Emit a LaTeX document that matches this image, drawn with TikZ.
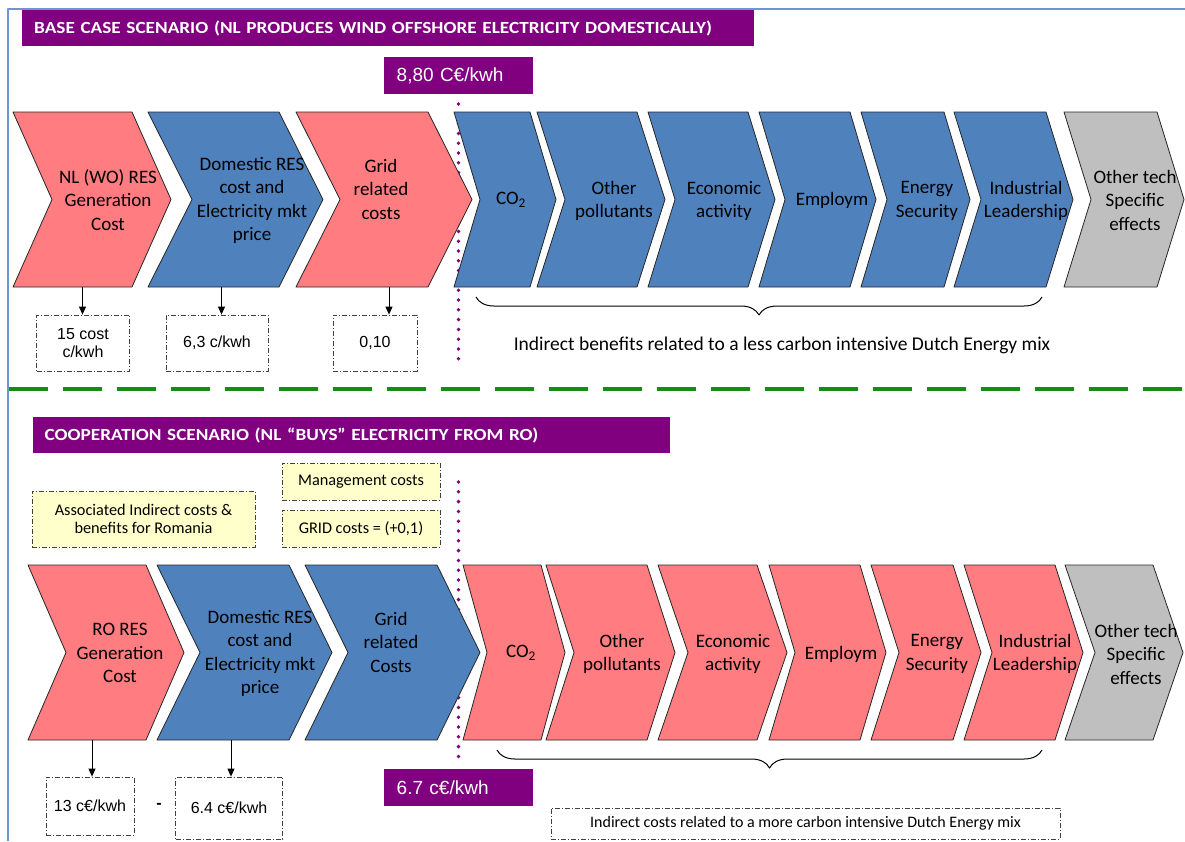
\documentclass[tikz,border=0pt]{standalone}
\usepackage{fontspec}
\setmainfont{Carlito}
\newfontfamily\arialfont{Liberation Sans}
\newfontfamily\hdrfont[FakeStretch=1.13]{Carlito}
\usetikzlibrary{arrows.meta,decorations.pathreplacing}

\definecolor{cpink}{RGB}{255,124,128}
\definecolor{cblue}{RGB}{79,129,189}
\definecolor{cgray}{RGB}{191,191,191}
\definecolor{cplum}{RGB}{128,0,128}
\definecolor{cframe}{RGB}{108,150,205}
\definecolor{cgreen}{RGB}{24,138,24}
\definecolor{cyellow}{RGB}{255,255,204}

\begin{document}
\begin{tikzpicture}[x=1pt, y=-1pt, line join=round, >={Triangle[length=8pt,width=7pt]},
  chev/.style={draw=black!85, line width=0.8pt},
  chevtxt/.style={align=center, inner sep=0pt, font=\fontsize{19}{23.5}\selectfont},
  hdr/.style={fill=cplum, text=white, inner xsep=12pt, inner ysep=0pt, minimum height=36pt,
    align=left, font=\hdrfont\bfseries\fontsize{17}{20}\selectfont},
  price/.style={fill=cplum, text=white, inner xsep=12.5pt, inner ysep=0pt, minimum height=37pt,
    text width=124pt, align=left, font=\arialfont\fontsize{19}{22}\selectfont},
  dashdot/.style={draw=black!75, line width=0.8pt, dash pattern=on 5pt off 2pt on 1pt off 2pt},
  vbox/.style={dashdot, align=center, inner sep=0pt, font=\arialfont\fontsize{16}{18.3}\selectfont},
  ybox/.style={dashdot, fill=cyellow, align=center, inner sep=0pt, font=\fontsize{16.3}{18.3}\selectfont},
  purpledots/.style={cplum, line width=3.8pt, line cap=round, dash pattern=on 0pt off 9.8pt},
  arr/.style={->, line width=0.9pt}]
  \useasboundingbox (0,0) rectangle (1185,841);

  % frame and separator
  \draw[cframe, line width=2pt] (7.5,841) -- (7.5,9) -- (1185,9);
  \draw[cgreen, line width=4pt, dash pattern=on 39pt off 15pt] (8.5,389) -- (1185,389);

  % base case
  \node[hdr, text width=708pt, anchor=north west] (base) at (22,10)
    {BASE CASE SCENARIO (NL PRODUCES WIND OFFSHORE ELECTRICITY DOMESTICALLY)};
  \node[price, anchor=north west] (p1) at (384,57) {8,80 C€/kwh};
  \draw[purpledots] (458.5,104) -- (458.5,362);

  \foreach \nm/\l/\r/\d/\col/\tx/\ty/\txt in {
      t1/13/132/39/cpink/108/200/{NL (WO) RES\\Generation\\Cost},
      t2/148/279/44/cblue/252/200.5/{Domestic RES\\cost and\\Electricity mkt\\price},
      t3/296/428/44/cpink/381/189/{Grid\\related\\costs},
      t4/454/530/26/cblue/511/200/{CO\textsubscript{2}},
      t5/537/637/28/cblue/614/201/{Other\\pollutants},
      t6/648/748/27/cblue/724/201/{Economic\\activity},
      t7/759/850/26/cblue/832/200/{Employm},
      t8/861/944/26/cblue/927/201/{Energy\\Security},
      t9/954/1046/27/cblue/1026/201/{Industrial\\Leadership},
      t10/1064/1157/27/cgray/1135/200/{Other tech\\Specific\\effects}}
  {
    \draw[chev, fill=\col] (\l,112) -- (\r,112) -- ({\r+\d},199.5) -- (\r,287) -- (\l,287) -- ({\l+\d},199.5) -- cycle;
    \node[chevtxt] (\nm) at (\tx,\ty) {\txt};
  }

  \node[vbox, minimum width=93pt, minimum height=56pt] (v1) at (83,343) {15 cost\\c/kwh};
  \node[vbox, minimum width=102pt, minimum height=56pt] (v2) at (217,343) {6,3 c/kwh};
  \node[vbox, minimum width=84pt, minimum height=56pt] (v3) at (375,343) {0,10};
  \coordinate (a1) at (82.5,287);
  \coordinate (a2) at (221.5,287);
  \coordinate (a3) at (389,287);
  \draw[arr] (a1) -- (a1 |- v1.north);
  \draw[arr] (a2) -- (a2 |- v2.north);
  \draw[arr] (a3) -- (a3 |- v3.north);

  \draw[line width=1pt, decorate, decoration={brace, mirror, amplitude=18pt}] (476,297) -- (1042,297);
  \node[font=\fontsize{19.5}{22}\selectfont] (benefit) at (782,345)
    {Indirect benefits related to a less carbon intensive Dutch Energy mix};

  % cooperation
  \node[hdr, text width=613pt, anchor=north west] (coop) at (32.5,417)
    {COOPERATION SCENARIO (NL “BUYS” ELECTRICITY FROM RO)};
  \node[ybox, minimum width=223pt, minimum height=56pt] (romania) at (143.5,519)
    {Associated Indirect costs \&\\benefits for Romania};
  \node[ybox, minimum width=158pt, minimum height=37pt] (mgmt) at (361,481.5) {Management costs};
  \node[ybox, minimum width=158pt, minimum height=37pt] (grid) at (361,528.5) {GRID costs = (+0,1)};
  \draw[purpledots] (458.5,482) -- (458.5,766);

  \foreach \nm/\l/\r/\d/\col/\tx/\ty/\txt in {
      b1/28/146/38/cpink/120/653/{RO RES\\Generation\\Cost},
      b2/157/289/43/cblue/260/653.5/{Domestic RES\\cost and\\Electricity mkt\\price},
      b3/305/437/43/cblue/391/642/{Grid\\related\\Costs},
      b4/463/541/24/cpink/521/653/{CO\textsubscript{2}},
      b5/546/647/28/cpink/622/654/{Other\\pollutants},
      b6/658/757/30/cpink/733/654/{Economic\\activity},
      b7/769/860/26/cpink/841/654/{Employm},
      b8/871/953/28/cpink/937/654/{Energy\\Security},
      b9/964/1055/28/cpink/1035/654/{Industrial\\Leadership},
      b10/1065/1153/30/cgray/1136/654/{Other tech\\Specific\\effects}}
  {
    \draw[chev, fill=\col] (\l,565) -- (\r,565) -- ({\r+\d},652.5) -- (\r,740) -- (\l,740) -- ({\l+\d},652.5) -- cycle;
    \node[chevtxt] (\nm) at (\tx,\ty) {\txt};
  }

  \node[price, anchor=north west] (p2) at (384,769) {6.7 c€/kwh};

  \node[vbox, minimum width=88pt, minimum height=58pt] (w1) at (90,806) {13 c€/kwh};
  \node[vbox, minimum width=107pt, minimum height=62pt] (w2) at (229,808) {6.4 c€/kwh};
  \node[font=\arialfont\bfseries\fontsize{16}{18}\selectfont] (minus) at (159,806) {-};
  \coordinate (c1) at (92,740);
  \coordinate (c2) at (231,740);
  \draw[arr] (c1) -- (c1 |- w1.north);
  \draw[arr] (c2) -- (c2 |- w2.north);

  \draw[line width=1pt, decorate, decoration={brace, mirror, amplitude=18pt}] (497,750) -- (1042,750);
  \node[dashdot, minimum width=509pt, minimum height=31pt, inner sep=0pt, font=\fontsize{16}{18}\selectfont] (cost) at (805.5,823.5)
    {Indirect costs related to a more carbon intensive Dutch Energy mix};
\end{tikzpicture}
\end{document}
